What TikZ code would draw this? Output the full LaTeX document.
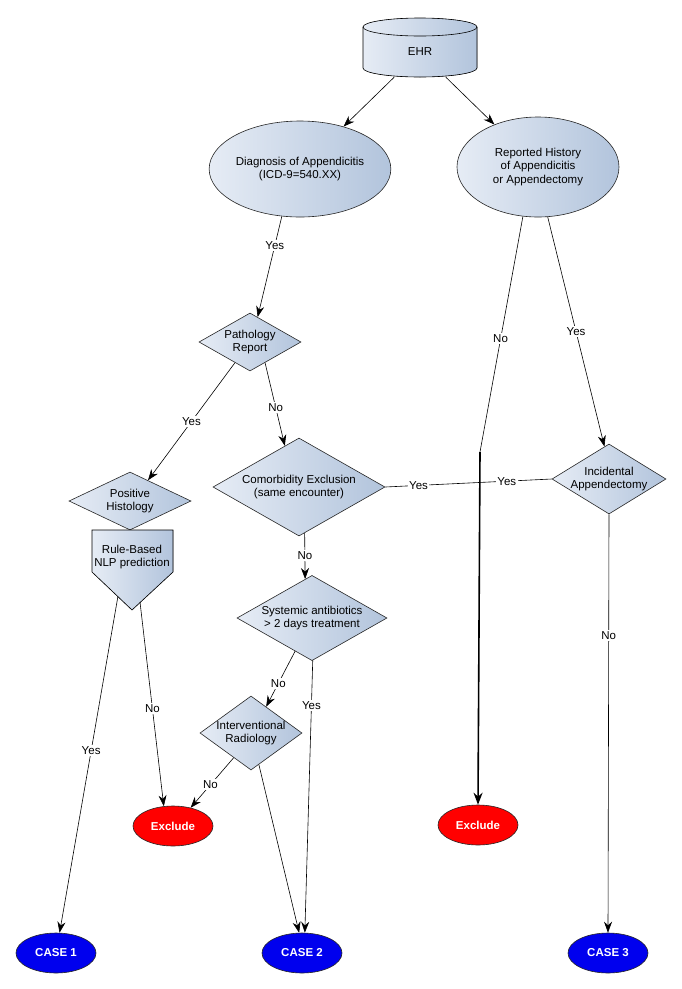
\documentclass[tikz,border=0pt]{standalone}
\usepackage{fontspec}
\setmainfont{Liberation Sans}
\usetikzlibrary{shapes.geometric,arrows.meta}
\definecolor{lite}{HTML}{E6ECF5}
\definecolor{dark}{HTML}{B2C4DC}
\definecolor{exred}{HTML}{FF0000}
\definecolor{caseblue}{HTML}{0000EE}
\begin{document}
\begin{tikzpicture}[x=1pt,y=-1pt,
  font=\fontsize{11.5}{13.5}\selectfont,
  box/.style={draw=black!85, line width=0.6pt, left color=lite, right color=dark, align=center},
  dia/.style={box, diamond, inner sep=-10pt},
  ell/.style={box, ellipse, inner sep=0pt},
  term/.style={ellipse, draw=black!85, line width=0.6pt, inner sep=0pt, text=white,
    font=\fontsize{11.5}{13.5}\selectfont\bfseries, minimum width=80pt, minimum height=40pt},
  arr/.style={-{Stealth[length=11pt,width=8pt]}, line width=0.6pt},
  plain/.style={line width=0.6pt},
  lbl/.style={fill=white, inner sep=1.5pt}
]
\useasboundingbox[fill=white] (0,0) rectangle (681,989);

% EHR cylinder
\fill[left color=lite, right color=dark] (363,27) -- (363,68)
  arc[start angle=180,end angle=360,x radius=57pt,y radius=9pt] -- (477,27)
  arc[start angle=0,end angle=180,x radius=57pt,y radius=9pt] -- cycle;
\draw[plain] (363,27) -- (363,68)
  arc[start angle=180,end angle=360,x radius=57pt,y radius=9pt] -- (477,27);
\draw[plain] (420,27) ellipse[x radius=57pt, y radius=9pt];
\node[minimum width=114pt, minimum height=50pt, inner sep=0pt] (ehr) at (420,52) {EHR};

% ellipses
\node[ell, minimum width=154pt, minimum height=96pt] (diag) at (300,169)
  {Diagnosis of Appendicitis\\(ICD-9=540.XX)};
\node[ell, minimum width=162pt, minimum height=100pt] (rep) at (538,167)
  {Reported History\\ of Appendicitis\\or Appendectomy};

% diamonds
\node[dia, minimum width=102pt, minimum height=58pt] (path) at (250,342) {Pathology\\Report};
\node[dia, minimum width=122pt, minimum height=58pt] (pos) at (130,501) {Positive\\Histology};
\node[dia, minimum width=172pt, minimum height=86pt] (com) at (299,487) {Comorbidity Exclusion\\(same encounter)};
\node[dia, minimum width=150pt, minimum height=84pt] (sys) at (312,618) {Systemic antibiotics\\> 2 days treatment};
\node[dia, minimum width=102pt, minimum height=74pt] (intv) at (251,733) {Interventional\\Radiology};
\node[dia, minimum width=114pt, minimum height=70pt] (inc) at (609,479) {Incidental\\Appendectomy};

% pentagon
\fill[left color=lite, right color=dark] (92,530) -- (173,530) -- (173,572) -- (132,610) -- (92,572) -- cycle;
\draw[plain] (92,530) -- (173,530) -- (173,572) -- (132,610) -- (92,572) -- cycle;
\node[align=center, inner sep=0pt] (nlp) at (132,557) {Rule-Based\\NLP prediction};
\coordinate (nlpL) at (118,596);
\coordinate (nlpR) at (140,602);

% terminals
\node[term, fill=exred] (exl) at (173,826) {Exclude};
\node[term, fill=exred] (exr) at (478,825) {Exclude};
\node[term, fill=caseblue] (c1) at (56,953) {CASE 1};
\node[term, fill=caseblue] (c2) at (302,953) {CASE 2};
\node[term, fill=caseblue] (c3) at (608,953) {CASE 3};

% connectors
\draw[arr] (ehr) -- (diag);
\draw[arr] (ehr) -- (rep);
\draw[arr] (diag.-111) -- node[lbl, pos=.29] {Yes} (path.73);
\draw[arr] (path.-126) -- node[lbl, pos=.5] {Yes} (pos.49);
\draw[arr] (path.-54) -- node[lbl, pos=.54] {No} (com.109);
\draw[arr] (com.-83) -- node[lbl, pos=.48] {No} (sys.100);
\draw[arr] (sys.-117) -- node[lbl, pos=.58] {No} (intv.60);
\draw[arr] (sys.-89) -- node[lbl, pos=.165] {Yes} (c2.82);
\draw[arr] (intv.-125) -- node[lbl, pos=.54] {No} (exl.46);
\draw[arr] (intv.-76) -- (c2.98);
\draw[arr] (nlpL) -- node[lbl, pos=.46] {Yes} (c1.80);
\draw[arr] (nlpR) -- node[lbl, pos=.52] {No} (exl.115);
\coordinate (bend) at (480,452);
\draw[plain] (rep.-107) -- node[lbl, pos=.52] {No} (bend);
\draw[-{Stealth[length=12pt,width=9pt]}, line width=1.6pt] (bend) -- (exr.north);
\draw[arr] (rep.-79) -- node[lbl, pos=.5] {Yes} (inc.98);
\draw[plain] (inc.west) -- node[lbl, pos=.27] {Yes} node[lbl, pos=.8] {Yes} (com.east);
\draw[arr] (inc.south) -- node[lbl, pos=.29] {No} (c3.north);
\end{tikzpicture}
\end{document}
